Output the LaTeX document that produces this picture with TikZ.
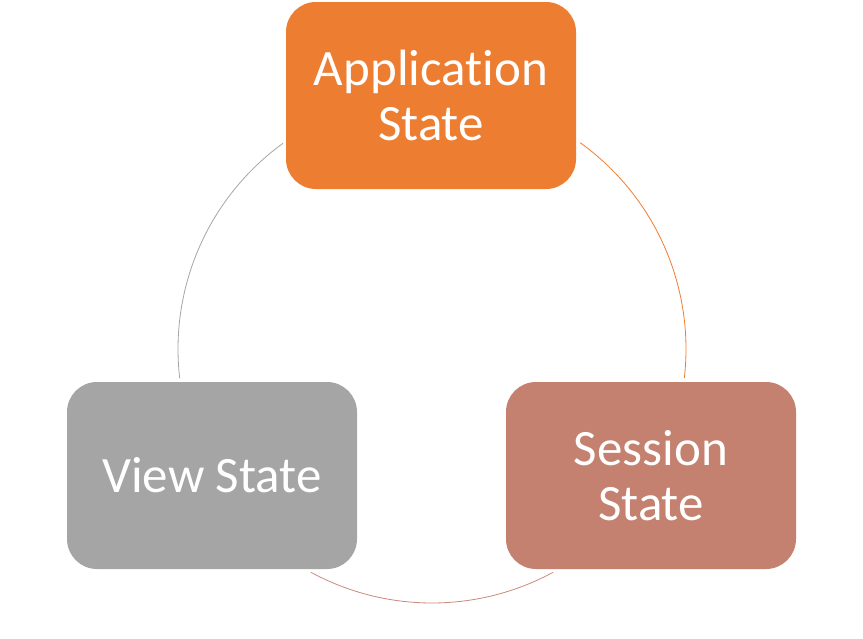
\documentclass[tikz,border=0pt]{standalone}
\usepackage{fontspec}
\setmainfont{Carlito}[Ligatures=NoCommon]
\usetikzlibrary{positioning}
\definecolor{apporange}{HTML}{ED7D31}
\definecolor{viewgray}{HTML}{A5A5A5}
\definecolor{sessred}{HTML}{C5816F}
\definecolor{loopred}{HTML}{C98A7C}

\tikzset{
  stateblock/.style={rectangle,rounded corners=30pt,minimum width=290pt,minimum height=187pt,
    inner sep=0pt,text=white,align=center,font=\fontsize{51}{55}\selectfont},
  cycleline/.style={line width=0.8pt}
}

\begin{document}
\begin{tikzpicture}[x=1pt,y=-1pt]
\useasboundingbox (0,0) rectangle (863,638);
\coordinate (hub) at (432,349);
% the three states
\node[stateblock,fill=apporange] (app) at (431,95.5) {Application\\State};
\node[stateblock,fill=viewgray] (view) at (212,475.5) {View State};
\node[stateblock,fill=sessred] (sess) at (651,475.5) {Session\\State};
% the cycle between them
\draw[cycleline,apporange] (hub) ++(54.3:254pt) arc[start angle=54.3,end angle=-6.6,radius=254pt];
\draw[cycleline,loopred] (hub) ++(298.5:254pt) arc[start angle=298.5,end angle=241.5,radius=254pt];
\draw[cycleline,viewgray] (hub) ++(186.6:254pt) arc[start angle=186.6,end angle=125.9,radius=254pt];
\end{tikzpicture}
\end{document}
